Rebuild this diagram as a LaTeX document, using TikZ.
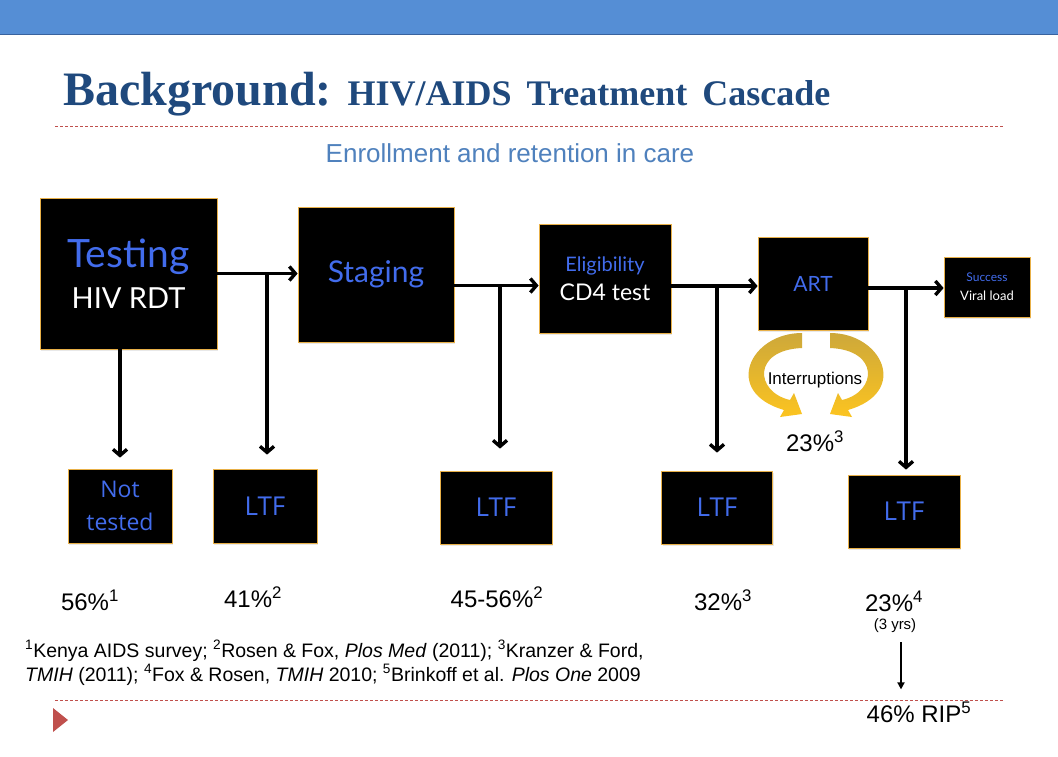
\documentclass[tikz,border=0pt]{standalone}
\usepackage{fontspec}
\setmainfont{Liberation Sans}
\newfontfamily\titleFont{Liberation Serif}
\newfontfamily\gillFont{Lato}
\newfontfamily\segoeFont{Open Sans}
\usetikzlibrary{arrows.meta,shadows}
\definecolor{barColor}{RGB}{85,142,213}
\definecolor{barEdge}{RGB}{56,98,158}
\definecolor{titleColor}{RGB}{31,73,125}
\definecolor{subColor}{RGB}{79,129,189}
\definecolor{ruleColor}{RGB}{192,80,77}
\definecolor{boxBlue}{RGB}{66,108,236}
\definecolor{boxEdge}{RGB}{232,176,72}
\definecolor{ringTop}{RGB}{205,168,58}
\definecolor{ringBottom}{RGB}{252,196,32}
\tikzset{
  slide/.style={x=1pt, y=-1pt},
  stepBox/.style={fill=black, draw=boxEdge, line width=.8pt, inner sep=0pt, align=center, drop shadow={shadow xshift=1pt, shadow yshift=-2pt, opacity=.18}},
  lossBox/.style={stepBox, minimum height=74pt, font=\segoeFont\fontsize{26}{33}\selectfont, text=boxBlue},
  flowArrow/.style={draw=black, line width=3.4pt, -{Straight Barb[length=6pt,width=14pt]}},
  ripArrow/.style={draw=black, line width=2.2pt, -{Triangle[length=7pt,width=7pt]}},
  pctText/.style={inner sep=0pt, font=\fontsize{24}{28}\selectfont},
  ruleLine/.style={draw=ruleColor, line width=.7pt, dash pattern=on 3pt off 2pt},
  ringShade/.style={top color=ringTop, bottom color=ringBottom}
}
\newcommand{\interruptArrow}{\shade[ringShade] (802,333) .. controls (750,333) and (722,392) .. (784,410) -- (780,417) -- (802,414) -- (794,393) -- (790,400) .. controls (755,392) and (752,350) .. (802,348) -- cycle;}

\begin{document}
\begin{tikzpicture}[slide]
  \useasboundingbox (0,0) rectangle (1058,756);
  \fill[white] (0,0) rectangle (1058,756);
  % header
  \filldraw[fill=barColor, draw=barEdge, line width=1pt] (-1,-1) rectangle (1059,34);
  \node[anchor=base west, inner sep=0pt, text=titleColor, font=\titleFont\bfseries] (title) at (63,105) {\fontsize{48}{52}\selectfont Background: \fontsize{36}{40}\selectfont HIV/AIDS\hspace{6pt} Treatment\hspace{6pt} Cascade};
  \draw[ruleLine] (55,126) -- (1003,126);
  \node[text=subColor, font=\fontsize{26}{30}\selectfont] (subtitle) at (510,153) {Enrollment and retention in care};
  % cascade steps
  \node[stepBox, minimum width=177pt, minimum height=151pt, font=\gillFont\fontsize{29}{40}\selectfont, text=white] (testing) at (128.5,273.5) {{\color{boxBlue}\fontsize{39}{40}\selectfont Testing}\\[1pt]HIV RDT};
  \node[stepBox, minimum width=156pt, minimum height=135pt, font=\gillFont\fontsize{30}{36}\selectfont, text=boxBlue] (staging) at (376,274.5) {Staging};
  \node[stepBox, minimum width=132pt, minimum height=109pt, font=\gillFont\fontsize{23}{29}\selectfont, text=white] (eligibility) at (605,278.5) {{\color{boxBlue}\fontsize{20}{29}\selectfont Eligibility}\\CD4 test};
  \node[stepBox, minimum width=110pt, minimum height=93pt, font=\gillFont\fontsize{21}{25}\selectfont, text=boxBlue] (art) at (813,283.5) {ART};
  \node[stepBox, minimum width=86pt, minimum height=60pt, font=\gillFont\fontsize{13}{19}\selectfont, text=white] (success) at (987,287) {{\color{boxBlue}\fontsize{12}{19}\selectfont Success}\\Viral load};
  % losses
  \node[lossBox, minimum width=104pt, font=\segoeFont\fontsize{23}{33}\selectfont] (notTested) at (120,506) {Not\\tested};
  \node[lossBox, minimum width=104pt] (ltfA) at (265,506) {LTF};
  \node[lossBox, minimum width=112pt, minimum height=73pt] (ltfB) at (496,507.5) {LTF};
  \node[lossBox, minimum width=111pt, minimum height=73pt] (ltfC) at (717,507.5) {LTF};
  \node[lossBox, minimum width=112pt, minimum height=73pt] (ltfD) at (904,511.5) {LTF};
  % flow
  \coordinate (outTesting) at (testing.east);
  \coordinate (outStaging) at ([yshift=-11pt]staging.east);
  \coordinate (outEligibility) at ([yshift=-7.5pt]eligibility.east);
  \coordinate (outArt) at ([yshift=-4.5pt]art.east);
  \draw[flowArrow] (outTesting) -- (outTesting -| staging.west);
  \draw[flowArrow] (outStaging) -- (outStaging -| eligibility.west);
  \draw[flowArrow] (outEligibility) -- (outEligibility -| art.west);
  \draw[flowArrow] (outArt) -- (outArt -| success.west);
  \draw[flowArrow] (testing.south -| notTested.north) -- ([yshift=11pt]notTested.north);
  \draw[flowArrow] ([xshift=2pt]ltfA.north |- outTesting) -- ([xshift=2pt,yshift=14pt]ltfA.north);
  \draw[flowArrow] ([xshift=4pt]ltfB.north |- outStaging) -- ([xshift=4pt,yshift=22pt]ltfB.north);
  \draw[flowArrow] (ltfC.north |- outEligibility) -- ([yshift=18pt]ltfC.north);
  \draw[flowArrow] ([xshift=2pt]ltfD.north |- outArt) -- ([xshift=2pt,yshift=5pt]ltfD.north);
  % interruptions
  \interruptArrow
  \begin{scope}[shift={(1632,0)}, xscale=-1]
    \interruptArrow
  \end{scope}
  \node[font=\fontsize{17}{20}\selectfont] (interrupt) at (815,380) {Interruptions};
  \node[pctText] (pctInterrupt) at (815,441) {23\%\textsuperscript{3}};
  % percentages
  \node[pctText] (pctA) at (90,600) {56\%\textsuperscript{1}};
  \node[pctText] (pctB) at (253,597) {41\%\textsuperscript{2}};
  \node[pctText] (pctC) at (497,597) {45-56\%\textsuperscript{2}};
  \node[pctText] (pctD) at (723,600) {32\%\textsuperscript{3}};
  \node[pctText] (pctE) at (894,601) {23\%\textsuperscript{4}};
  \node[inner sep=0pt, font=\fontsize{15}{18}\selectfont] (yrs) at (895,626) {(3 yrs)};
  \node[pctText] (rip) at (919,712) {46\% RIP\textsuperscript{5}};
  \draw[ripArrow, shorten <=9pt, shorten >=12pt] ([xshift=6pt]yrs.south) -- ([xshift=6pt]yrs.south |- rip.north);
  % references
  \node[anchor=north west, inner sep=0pt, align=left, font=\fontsize{19.5}{24}\selectfont] (refs) at (25,640) {\textsuperscript{1}Kenya AIDS survey; \textsuperscript{2}Rosen \& Fox, \textit{Plos Med} (2011); \textsuperscript{3}Kranzer \& Ford,\\\textit{TMIH} (2011); \textsuperscript{4}Fox \& Rosen, \textit{TMIH} 2010; \textsuperscript{5}Brinkoff et al. \textit{Plos One} 2009};
  % footer
  \draw[ruleLine] (55,700) -- (1003,700);
  \fill[ruleColor] (53,708) -- (68,720) -- (53,732) -- cycle;
\end{tikzpicture}
\end{document}
